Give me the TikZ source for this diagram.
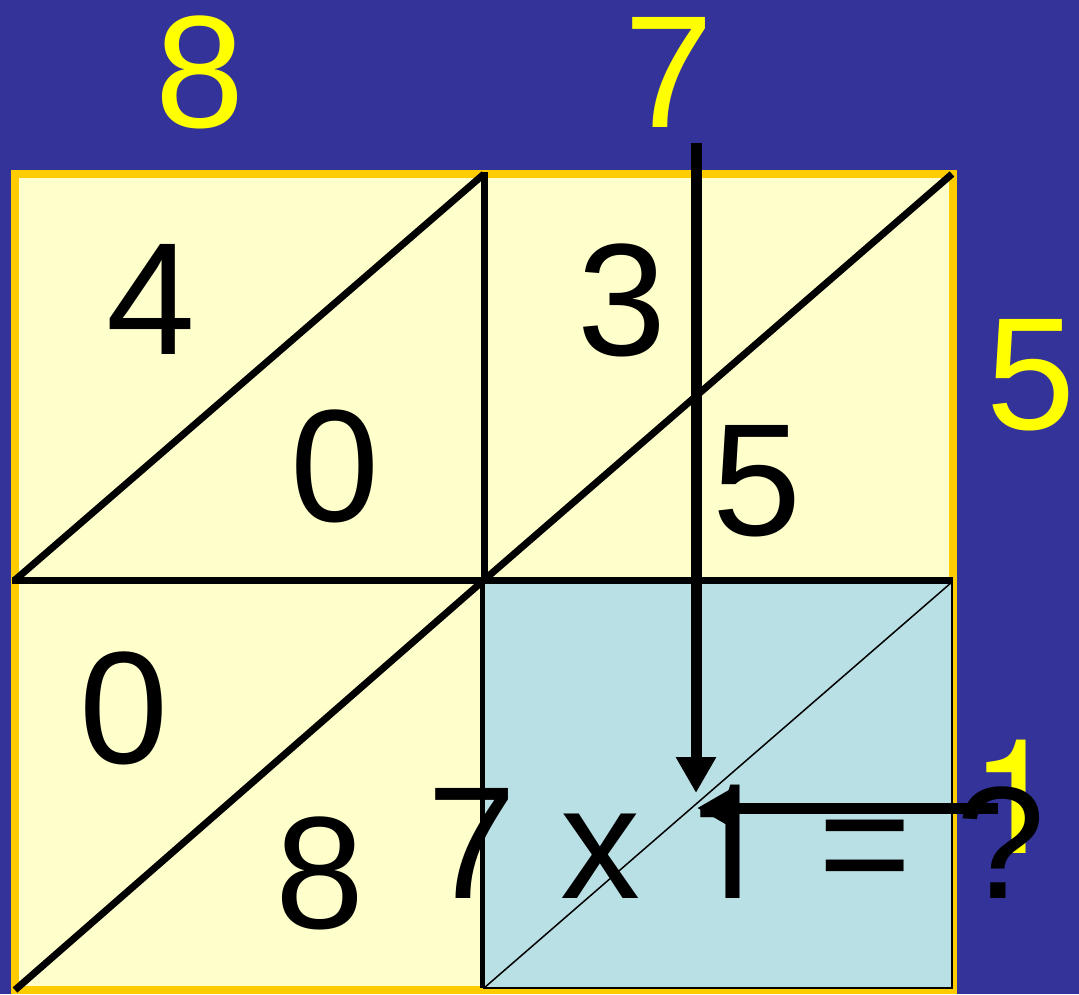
\documentclass[tikz,border=0pt]{standalone}
\usepackage{fontspec}
\setmainfont{Liberation Sans}
\newfontfamily\heros{TeX Gyre Heros}
\usetikzlibrary{arrows.meta}
\definecolor{navy}{HTML}{333399}
\definecolor{gold}{HTML}{FFCC00}
\definecolor{cream}{HTML}{FFFFCC}
\definecolor{paleblue}{HTML}{B9E0E5}
\definecolor{brightyellow}{HTML}{FFFF00}
\newcommand\bignum{\fontsize{160}{160}\selectfont}
\tikzset{
  digit/.style={inner sep=0pt, outer sep=0pt, anchor=base, font=\bignum},
  ydigit/.style={digit, text=brightyellow},
  bdigit/.style={digit, text=black},
  gridline/.style={line width=7pt, black, line cap=butt},
  thinline/.style={line width=1.5pt, black},
  bigarrow/.style={line width=11pt, black, -{Triangle[length=36pt,width=38pt]}}
}
\begin{document}
\begin{tikzpicture}[x=1pt,y=-1pt]
\useasboundingbox (0,0) rectangle (1079,994);
\fill[navy] (0,0) rectangle (1079,994);
% lattice frame
\filldraw[fill=cream, draw=gold, line width=8pt] (15,174) rectangle (953,990);
% blue cell
\filldraw[fill=paleblue, draw=black, line width=2pt] (484,580) rectangle (952,988);
\draw[black, line width=4.5pt] (482,580) -- (482,988);
\draw[thinline] (484,988) -- (952,582);
% grid lines
\draw[gridline] (484,172) -- (484,580);
\draw[gridline] (12,580) -- (953,580);
\draw[gridline] (15,580) -- (484,174);
\draw[gridline] (484,580) -- (952,174);
\draw[gridline] (15,990) -- (484,580);
% yellow factors
\node[ydigit] (t8) at (200,127) {8};
\node[ydigit] (t7) at (669,127) {7};
\node[ydigit] (r5) at (1031,429) {5};
\node[ydigit, anchor=base west] (r1) at (970,853) {\heros 1};
% cell digits
\node[bdigit] (c4) at (151,354) {4};
\node[bdigit] (c0a) at (335,521) {0};
\node[bdigit] (c3) at (622,355) {3};
\node[bdigit] (c5) at (757,535) {5};
\node[bdigit] (c0b) at (124,763) {0};
\node[bdigit] (c8) at (320,928) {8};
% equation
\node[bdigit, anchor=base west] (eq) at (427,898) {7 x {\heros 1} = ?};
% arrows
\coordinate (vtop) at (696,143);
\coordinate (vtip) at (696,793);
\coordinate (hstart) at (998,808);
\coordinate (htip) at (697,808);
\draw[bigarrow] (vtop) -- (vtip);
\draw[bigarrow] (hstart) -- (htip);
\end{tikzpicture}
\end{document}
